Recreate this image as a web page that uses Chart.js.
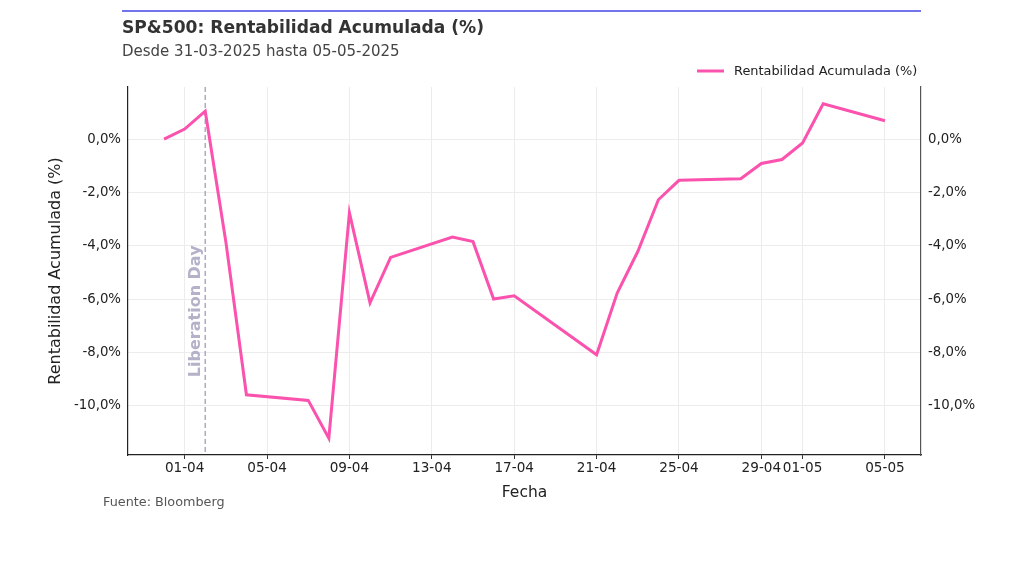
<!DOCTYPE html>
<html>
<head>
<meta charset="utf-8">
<script src="https://cdn.jsdelivr.net/npm/chart.js@4/dist/chart.umd.min.js"></script>
<style>
  html, body { margin: 0; padding: 0; background: #fff; }
  #wrap { width: 1024px; height: 576px; position: relative; }
</style>
</head>
<body>
<div id="wrap"><canvas id="chart" width="1024" height="576"></canvas></div>
<script>
// datos (sesiones del SP500)
const fechas = ['2025-03-31', '2025-04-01', '2025-04-02', '2025-04-03', '2025-04-04', '2025-04-07',
  '2025-04-08', '2025-04-09', '2025-04-10', '2025-04-11', '2025-04-14', '2025-04-15', '2025-04-16',
  '2025-04-17', '2025-04-21', '2025-04-22', '2025-04-23', '2025-04-24', '2025-04-25', '2025-04-28',
  '2025-04-29', '2025-04-30', '2025-05-01', '2025-05-02', '2025-05-05'];
const rentabilidad = [0.00, 0.38, 1.05, -3.84, -9.58, -9.79, -11.21, -2.76, -6.13, -4.43, -3.67, -3.84, -5.99,
  -5.87, -8.08, -5.77, -4.21, -2.27, -1.54, -1.48, -0.91, -0.76, -0.14, 1.33, 0.69];

const xTickFechas = ['2025-04-01', '2025-04-05', '2025-04-09', '2025-04-13', '2025-04-17', '2025-04-21',
  '2025-04-25', '2025-04-29', '2025-05-01', '2025-05-05'];
const xTickLabels = ['01-04', '05-04', '09-04', '13-04', '17-04', '21-04', '25-04', '29-04', '01-05', '05-05'];
const yTicks = [0, -2, -4, -6, -8, -10];
const liberationDay = '2025-04-02';

const inicio = Date.UTC(2025, 2, 31);
function dias(f) {
  const [y, m, d] = f.split('-').map(Number);
  return (Date.UTC(y, m - 1, d) - inicio) / 86400000;
}

const xDias = fechas.map(dias);
const xTicks = xTickFechas.map(dias);
const puntos = xDias.map((x, i) => ({ x: x, y: rentabilidad[i] }));

const xMin = xDias[0], xMax = xDias[xDias.length - 1];
const xPad = (xMax - xMin) * 0.05;
const yLo = Math.min(...rentabilidad), yHi = Math.max(...rentabilidad);
const yPad = (yHi - yLo) * 0.05;

const FONT = "'DejaVu Sans', sans-serif";
const PINK = '#fa52ad';

function fmtPct(v) {
  return v.toFixed(1).replace('.', ',') + '%';
}

// titulo, subtitulo, leyenda, fuente y la linea del Liberation Day
const decoraciones = {
  id: 'decoraciones',
  beforeDatasetsDraw(chart) {
    const ctx = chart.ctx;
    const x = chart.scales.x, y = chart.scales.y;
    const px = x.getPixelForValue(dias(liberationDay));
    ctx.save();
    ctx.strokeStyle = '#aeaac4';
    ctx.lineWidth = 1.5;
    ctx.setLineDash([5, 3]);
    ctx.beginPath();
    ctx.moveTo(px, chart.chartArea.top);
    ctx.lineTo(px, chart.chartArea.bottom);
    ctx.stroke();
    ctx.setLineDash([]);
    ctx.translate(px - 9, y.getPixelForValue(-6.45));
    ctx.rotate(-Math.PI / 2);
    ctx.fillStyle = '#b4b2c8';
    ctx.font = 'bold 16px ' + FONT;
    ctx.textAlign = 'center';
    ctx.textBaseline = 'middle';
    ctx.fillText('Liberation Day', 0, 0);
    ctx.restore();
  },
  afterDraw(chart) {
    const ctx = chart.ctx;
    ctx.save();
    // linea azul superior
    ctx.strokeStyle = '#7474ea';
    ctx.lineWidth = 2;
    ctx.beginPath();
    ctx.moveTo(122, 11);
    ctx.lineTo(921, 11);
    ctx.stroke();

    ctx.textBaseline = 'middle';
    ctx.textAlign = 'left';
    ctx.fillStyle = '#333';
    ctx.font = 'bold 17.1px ' + FONT;
    ctx.fillText('SP&500: Rentabilidad Acumulada (%)', 122, 29);
    ctx.fillStyle = '#444';
    ctx.font = '15px ' + FONT;
    ctx.fillText('Desde 31-03-2025 hasta 05-05-2025', 122, 52);

    // leyenda
    ctx.strokeStyle = PINK;
    ctx.lineWidth = 3;
    ctx.beginPath();
    ctx.moveTo(697, 71);
    ctx.lineTo(724, 71);
    ctx.stroke();
    ctx.fillStyle = '#222';
    ctx.font = '12.9px ' + FONT;
    ctx.fillText('Rentabilidad Acumulada (%)', 734, 71.5);

    ctx.fillStyle = '#555';
    ctx.font = '12.8px ' + FONT;
    ctx.fillText('Fuente: Bloomberg', 103, 503);
    ctx.restore();
  }
};

new Chart(document.getElementById('chart'), {
  type: 'line',
  data: {
    datasets: [{
      label: 'Rentabilidad Acumulada (%)',
      data: puntos,
      borderColor: PINK,
      backgroundColor: PINK,
      borderWidth: 3,
      pointRadius: 0,
      tension: 0,
      yAxisID: 'y'
    }]
  },
  options: {
    responsive: false,
    animation: false,
    layout: { padding: { top: 87, left: 46, right: 0, bottom: 71 } },
    plugins: { legend: { display: false }, tooltip: { enabled: false } },
    scales: {
      x: {
        type: 'linear',
        min: xMin - xPad,
        max: xMax + xPad,
        afterBuildTicks: (s) => { s.ticks = xTicks.map(v => ({ value: v })); },
        afterFit: (s) => { s.height = 50; },
        grid: { color: '#ececec', tickColor: '#333', tickLength: 4 },
        border: { color: '#222', width: 1.2 },
        ticks: {
          color: '#222', font: { family: FONT, size: 13.6 }, padding: 1, maxRotation: 0, autoSkip: false,
          callback: (v) => xTickLabels[xTicks.indexOf(v)]
        },
        title: { display: true, text: 'Fecha', color: '#222', font: { family: FONT, size: 15.5 }, padding: { top: 4, bottom: 3 } }
      },
      y: {
        position: 'left',
        min: yLo - yPad,
        max: yHi + yPad,
        afterBuildTicks: (s) => { s.ticks = yTicks.map(v => ({ value: v })); },
        afterFit: (s) => { s.width = 82; },
        grid: { color: '#ececec', drawTicks: false },
        border: { color: '#222', width: 1.2 },
        ticks: { color: '#222', font: { family: FONT, size: 13.3 }, padding: 7, callback: fmtPct },
        title: { display: true, text: 'Rentabilidad Acumulada (%)', color: '#222', font: { family: FONT, size: 16 }, padding: 0 }
      },
      y2: {
        position: 'right',
        min: yLo - yPad,
        max: yHi + yPad,
        afterBuildTicks: (s) => { s.ticks = yTicks.map(v => ({ value: v })); },
        afterFit: (s) => { s.width = 103; },
        grid: { drawOnChartArea: false, drawTicks: false },
        border: { color: '#555', width: 1.2 },
        ticks: { color: '#222', font: { family: FONT, size: 13.3 }, padding: 7, callback: fmtPct }
      }
    }
  },
  plugins: [decoraciones]
});
</script>
</body>
</html>
